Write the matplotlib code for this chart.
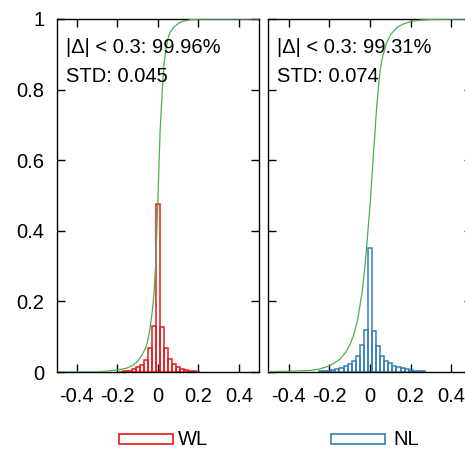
import numpy as np
import matplotlib
matplotlib.use("Agg")
import matplotlib.pyplot as plt
from matplotlib.patches import Rectangle

plt.rcParams['font.family'] = ['Liberation Sans', 'DejaVu Sans']

# ---------------- data ----------------
bin_width = 0.02
wl_centers = [-0.18, -0.16, -0.14, -0.12, -0.10, -0.08, -0.06, -0.04, -0.02, 0.0,
              0.02, 0.04, 0.06, 0.08, 0.10, 0.12, 0.14, 0.16, 0.18, 0.20]
wl_heights = [0.001, 0.002, 0.004, 0.008, 0.013, 0.021, 0.033, 0.067, 0.130, 0.475,
              0.128, 0.069, 0.036, 0.022, 0.013, 0.008, 0.005, 0.003, 0.002, 0.001]

nl_centers = [-0.24, -0.22, -0.20, -0.18, -0.16, -0.14, -0.12, -0.10, -0.08, -0.06,
              -0.04, -0.02, 0.0, 0.02, 0.04, 0.06, 0.08, 0.10, 0.12, 0.14,
              0.16, 0.18, 0.20, 0.22, 0.24, 0.26]
nl_heights = [0.002, 0.003, 0.004, 0.006, 0.009, 0.012, 0.017, 0.023, 0.032, 0.045,
              0.076, 0.119, 0.352, 0.116, 0.075, 0.045, 0.032, 0.025, 0.018, 0.015,
              0.011, 0.008, 0.006, 0.004, 0.003, 0.002]

wl_cdf_x = [-0.5, -0.3, -0.24, -0.2, -0.16, -0.14, -0.12, -0.10, -0.08, -0.06, -0.05,
            -0.04, -0.03, -0.02, -0.01, 0.0, 0.01, 0.02, 0.03, 0.04, 0.05, 0.06,
            0.08, 0.10, 0.12, 0.16, 0.2, 0.5]
wl_cdf_y = [0.0, 0.0002, 0.003, 0.006, 0.010, 0.014, 0.020, 0.030, 0.047, 0.068, 0.088,
            0.118, 0.160, 0.215, 0.310, 0.490, 0.670, 0.780, 0.870, 0.915, 0.945, 0.962,
            0.978, 0.987, 0.993, 0.998, 0.9995, 1.0]

nl_cdf_x = [-0.5, -0.4, -0.3, -0.25, -0.2, -0.15, -0.12, -0.10, -0.08, -0.06, -0.04,
            -0.03, -0.02, -0.01, 0.0, 0.01, 0.02, 0.03, 0.04, 0.05, 0.06, 0.08,
            0.10, 0.13, 0.16, 0.2, 0.25, 0.3, 0.5]
nl_cdf_y = [0.001, 0.002, 0.004, 0.008, 0.017, 0.035, 0.055, 0.075, 0.105, 0.150, 0.220,
            0.270, 0.330, 0.400, 0.470, 0.560, 0.640, 0.730, 0.800, 0.855, 0.890, 0.930,
            0.955, 0.975, 0.985, 0.993, 0.997, 0.999, 1.0]

labels = ["WL", "NL"]
annot_within = ["99.96%", "99.31%"]
annot_std = ["0.045", "0.074"]
xticks = [-0.4, -0.2, 0.0, 0.2, 0.4]
xtick_labels = ["-0.4", "-0.2", "0", "0.2", "0.4"]
yticks = [0, 0.2, 0.4, 0.6, 0.8, 1.0]
ytick_labels = ["0", "0.2", "0.4", "0.6", "0.8", "1"]

# ---------------- figure ----------------
W, H = 465, 450
fig = plt.figure(figsize=(W / 100, H / 100), dpi=100)

red = "#e41a1c"
blue = "#377eb8"
green = "#4daf4a"
fs = 14.5

bottom = 1 - 372 / H
height = (372 - 19) / H
ax1 = fig.add_axes([56.7 / W, bottom, (259 - 56.7) / W, height])
ax2 = fig.add_axes([268.3 / W, bottom, (471.7 - 268.3) / W, height])

panels = [
    (ax1, wl_centers, wl_heights, red, wl_cdf_x, wl_cdf_y),
    (ax2, nl_centers, nl_heights, blue, nl_cdf_x, nl_cdf_y),
]

for i, (ax, c, h, col, cx, cy) in enumerate(panels):
    ax.bar(c, h, width=bin_width, fill=False, edgecolor=col, linewidth=1.1, zorder=2)
    xs = np.linspace(-0.5, 0.5, 801)
    ax.plot(xs, np.interp(xs, cx, cy), color=green, linewidth=0.9, zorder=3)
    ax.set_xlim(-0.5, 0.5)
    ax.set_ylim(0, 1)
    ax.set_xticks(xticks)
    ax.set_xticklabels(xtick_labels)
    ax.set_yticks(yticks)
    if i == 0:
        ax.set_yticklabels(ytick_labels)
    else:
        ax.set_yticklabels([])
    ax.tick_params(direction="in", length=6, width=1, top=True, right=True,
                   labelsize=fs, colors="black")
    ax.tick_params(axis="x", pad=11)
    ax.tick_params(axis="y", pad=9)
    for s in ax.spines.values():
        s.set_linewidth(1.0)
    ax.text(-0.455, 0.918, "|\u0394| < 0.3: " + annot_within[i], fontsize=fs,
            va="center", ha="left")
    ax.text(-0.455, 0.838, "STD: " + annot_std[i], fontsize=fs,
            va="center", ha="left")

# legend
legend_items = [(119, 177.7, red, labels[0]), (330.7, 393.3, blue, labels[1])]
for bx, tx, col, lab in legend_items:
    fig.patches.append(Rectangle((bx / W, 1 - 444 / H), 54 / W, 10 / H,
                                 transform=fig.transFigure, fill=False,
                                 edgecolor=col, linewidth=1.2))
    fig.text(tx / W, 1 - 439.5 / H, lab, fontsize=fs, va="center", ha="left")

fig.savefig("out.png", dpi=100)
